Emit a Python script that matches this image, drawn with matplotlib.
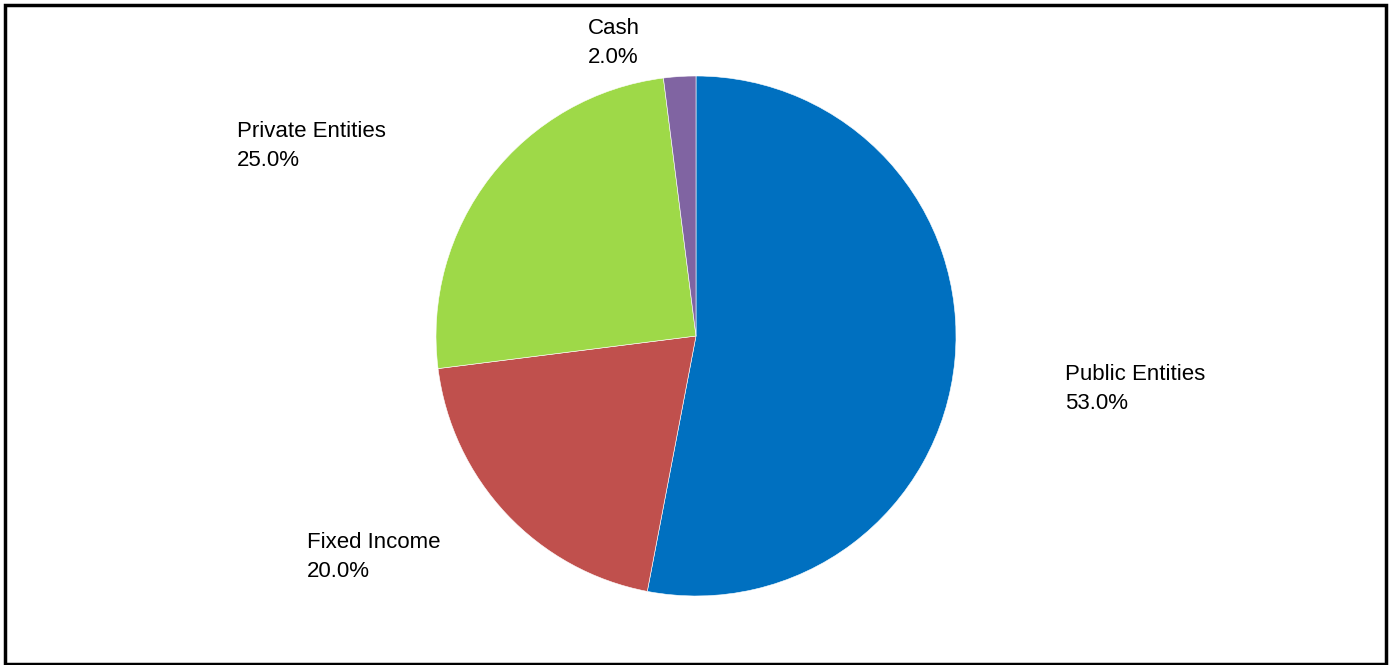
import matplotlib.pyplot as plt
from matplotlib.patches import Rectangle

# asset allocation
categories = ["Public Entities", "Fixed Income", "Private Entities", "Cash"]
shares = [53.0, 20.0, 25.0, 2.0]
colors = ["#0070C0", "#C0504D", "#9ED948", "#8064A2"]

# label anchors in pixels from the top-left (left edge, middle of the two lines)
label_pos = [(1065, 389), (307, 557), (237, 146), (588, 43)]

W, H = 1390, 665
fig = plt.figure(figsize=(W / 100, H / 100), dpi=100)
ax = fig.add_axes([0, 0, 1, 1])

ax.pie(shares, colors=colors, startangle=90, counterclock=False,
       center=(696, H - 336), radius=260, frame=True,
       wedgeprops=dict(edgecolor="white", linewidth=0.4))
ax.set_xlim(0, W)
ax.set_ylim(0, H)
ax.set_aspect("equal")
ax.axis("off")

for name, val, (x, y) in zip(categories, shares, label_pos):
    ax.text(x, H - y, f"{name}\n{val:.1f}%", ha="left", va="center",
            fontsize=16, family="Liberation Sans", linespacing=1.5)

# outer frame
fig.patches.append(Rectangle((4.5 / W, 1.5 / H), (W - 9) / W, (H - 6) / H,
                             transform=fig.transFigure, fill=False,
                             edgecolor="black", linewidth=2.5))

fig.savefig("out.png", dpi=100)
